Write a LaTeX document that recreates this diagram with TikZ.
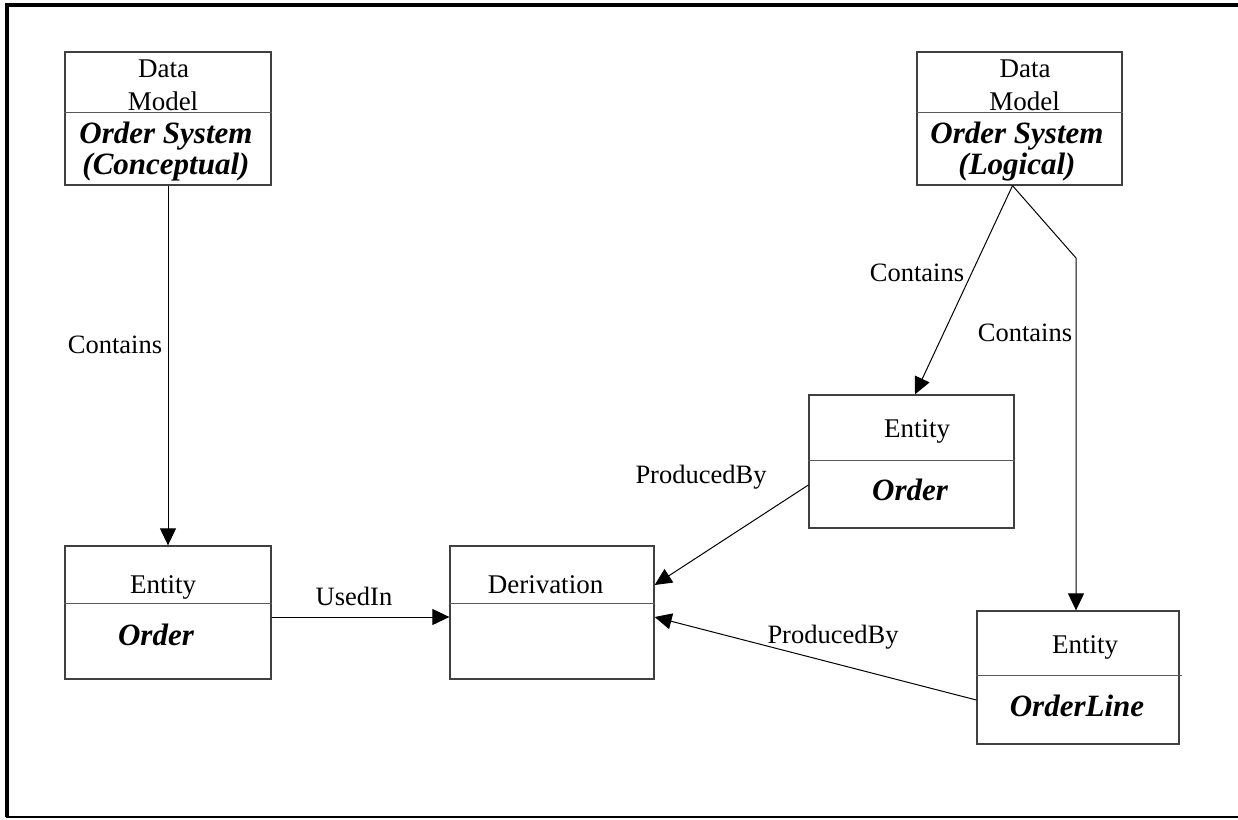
\documentclass[tikz,border=0pt]{standalone}
\usepackage{fontspec}
\setmainfont{Liberation Serif}
\usetikzlibrary{arrows.meta}
\begin{document}
\begin{tikzpicture}[x=1pt,y=-1pt,
  box/.style={draw=black!75, line width=1.3pt, rectangle, inner sep=0pt},
  div/.style={draw=black!65, line width=1.2pt},
  conn/.style={draw=black, line width=1pt, -{Triangle[length=17pt,width=16pt]}},
  reg/.style={anchor=base, inner sep=0pt, font=\fontsize{27}{30}\selectfont},
  bi/.style={anchor=base, inner sep=0pt, font=\fontsize{31}{34}\selectfont\bfseries\itshape},
  lbl/.style={anchor=base, inner sep=0pt, font=\fontsize{26.5}{30}\selectfont}]
\useasboundingbox (0,0) rectangle (1238,819);
% frame
\draw[line width=4pt] (1238,5) -- (7,5) -- (7,817);
\draw[line width=2pt] (6,817) -- (1238,817);
% boxes
\node[box, minimum width=206pt, minimum height=133pt] (dm1) at (168,118.5) {};
\node[box, minimum width=205pt, minimum height=133pt] (dm2) at (1019.5,118.5) {};
\node[box, minimum width=206pt, minimum height=133pt] (eo1) at (168,612.5) {};
\node[box, minimum width=204pt, minimum height=133pt] (der) at (552,612.5) {};
\node[box, minimum width=205pt, minimum height=133pt] (eo2) at (911.5,461.5) {};
\node[box, minimum width=202pt, minimum height=133pt] (ol) at (1078,677.5) {};
% dividers
\draw[div] ([yshift=-61pt]dm1.north west) -- ([yshift=-61pt]dm1.north east);
\draw[div] ([yshift=-61pt]dm2.north west) -- ([yshift=-61pt]dm2.north east);
\draw[div] ([yshift=-58pt]eo1.north west) -- ([yshift=-58pt]eo1.north east);
\draw[div] ([yshift=-58pt]der.north west) -- ([yshift=-58pt]der.north east);
\draw[div] ([yshift=-66pt]eo2.north west) -- ([yshift=-66pt]eo2.north east);
\draw[div] ([yshift=-65pt]ol.north west) -- ([yshift=-65pt,xshift=2pt]ol.north east);
% texts
\node[reg] (t1a) at (163.5,77) {Data};
\node[reg] (t1b) at (163,110) {Model};
\node[bi] (t1c) at (166,143) {Order System};
\node[bi] (t1d) at (166,174) {(Conceptual)};
\node[reg] (t2a) at (1025,77) {Data};
\node[reg] (t2b) at (1024.5,110) {Model};
\node[bi] (t2c) at (1017,143) {Order System};
\node[bi] (t2d) at (1017,174) {(Logical)};
\node[reg] (t3a) at (163,593) {Entity};
\node[bi] (t3b) at (156,645) {Order};
\node[reg] (t4a) at (545.5,593) {Derivation};
\node[reg] (t5a) at (917,437) {Entity};
\node[bi] (t5b) at (910,500.5) {Order};
\node[reg] (t6a) at (1085,653) {Entity};
\node[bi] (t6b) at (1077,716) {OrderLine};
% connectors
\coordinate (bend) at (1076,258);
\draw[conn] (dm1.south) -- (eo1.north);
\draw[conn] ([xshift=-7pt]dm2.south) -- ([xshift=3.5pt]eo2.north);
\draw[conn] ([xshift=-7pt]dm2.south) -- (bend) -- (bend |- ol.north);
\draw[conn] ([yshift=-4.5pt]eo1.east) -- ([yshift=-4.5pt]der.west);
\draw[conn] ([yshift=-23.5pt]eo2.west) -- ([yshift=27.5pt]der.east);
\draw[conn] ([yshift=-22.5pt]ol.west) -- ([yshift=-4.5pt]der.east);
% labels
\node[lbl] (l1) at (115,353) {Contains};
\node[lbl] (l2) at (917,281) {Contains};
\node[lbl] (l3) at (1025,341) {Contains};
\node[lbl] (l4) at (354,605) {UsedIn};
\node[lbl] (l5) at (701,483) {ProducedBy};
\node[lbl] (l6) at (833,643) {ProducedBy};
\end{tikzpicture}
\end{document}
